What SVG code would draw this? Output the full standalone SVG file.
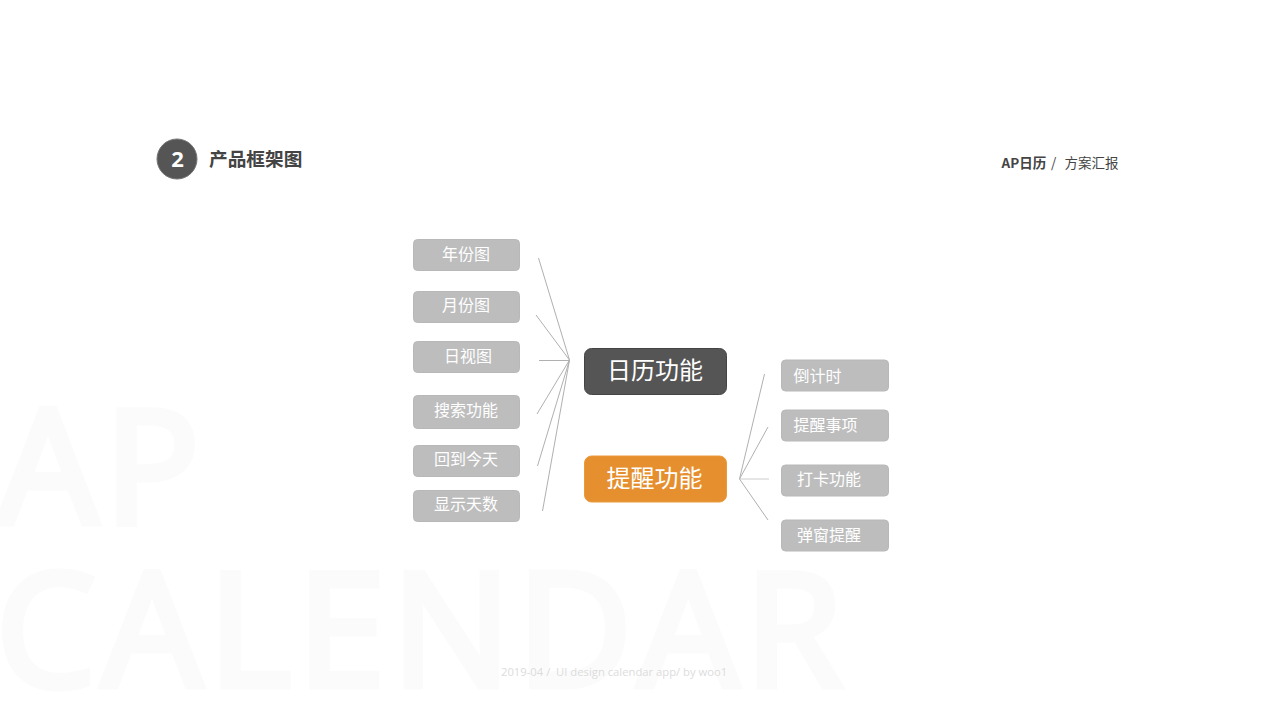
<svg xmlns="http://www.w3.org/2000/svg" width="1280" height="720" viewBox="0 0 1280 720">
<style>
text{font-family:"Noto Sans CJK SC","Open Sans","Noto Sans",sans-serif}
.bg{font-family:"Open Sans","Noto Sans",sans-serif;font-weight:400;font-size:158px;letter-spacing:6.500px;fill:#fbfbfb;stroke:#fbfbfb;stroke-width:7px;stroke-linejoin:miter}
.leaf rect{fill:#bdbdbd;stroke:#b8b8b8;stroke-width:1}
.leaf text{fill:#fff;font-size:16px;text-anchor:middle}
.main text{fill:#fff;font-size:24px;text-anchor:middle}
#connectors line{stroke:#b0b0b0;stroke-width:1;fill:none}
</style>
<rect width="1280" height="720" fill="#fff"/>
<text class="bg" x="-2" y="523">AP</text>
<text class="bg" x="-4" y="686">CALENDAR</text>
<text x="501" y="676" font-size="11.250" fill="#dcdcdc" xml:space="preserve" style="font-family:'Open Sans',sans-serif">2019-04 /  UI design calendar app/ by woo1</text>
<g id="badge"><circle cx="177" cy="159" r="20" fill="#555" stroke="#777" stroke-width="1"/><text x="177.500" y="167" font-size="22" font-weight="700" fill="#fff" text-anchor="middle" style="font-family:'Open Sans',sans-serif">2</text></g>
<text x="209" y="166" font-size="18.700" font-weight="700" fill="#444">产品框架图</text>
<text x="1001.500" y="168" font-size="13.500" font-weight="700" fill="#444">AP日历</text>
<text x="1051" y="168" font-size="13.500" fill="#444">/</text>
<text x="1064.500" y="168" font-size="13.500" fill="#444">方案汇报</text>
<g id="connectors">
<line x1="538.500" y1="258" x2="569.500" y2="360"/>
<line x1="536" y1="315" x2="569.500" y2="360"/>
<line x1="539" y1="360.500" x2="569.500" y2="360.500"/>
<line x1="537" y1="414" x2="569.500" y2="360"/>
<line x1="537.500" y1="466" x2="569.500" y2="360"/>
<line x1="542.500" y1="511" x2="569.500" y2="360"/>
<line x1="764.500" y1="374" x2="739.500" y2="479"/>
<line x1="768" y1="427" x2="739.500" y2="479"/>
<line x1="739.500" y1="479" x2="769" y2="479" style="stroke:#ccc"/>
<line x1="768" y1="520" x2="739.500" y2="479"/>
</g>
<g id="n1" class="leaf"><rect x="413.500" y="239.500" width="106" height="31" rx="4"/><text x="466" y="260">年份图</text></g>
<g id="n2" class="leaf"><rect x="413.500" y="291.500" width="106" height="31" rx="4"/><text x="466" y="311">月份图</text></g>
<g id="n3" class="leaf"><rect x="413.500" y="341.500" width="106" height="31" rx="4"/><text x="468" y="362">日视图</text></g>
<g id="n4" class="leaf"><rect x="413.500" y="395.500" width="106" height="33" rx="4"/><text x="466" y="416">搜索功能</text></g>
<g id="n5" class="leaf"><rect x="413.500" y="445.500" width="106" height="31" rx="4"/><text x="466" y="465">回到今天</text></g>
<g id="n6" class="leaf"><rect x="413.500" y="490.500" width="106" height="31" rx="4"/><text x="466" y="510">显示天数</text></g>
<g id="calendar" class="main"><rect x="584.500" y="348.500" width="142" height="46" rx="7" fill="#555" stroke="#444"/><text x="655" y="379">日历功能</text></g>
<g id="reminder" class="main"><rect x="584.500" y="456" width="142" height="46" rx="7" fill="#e68f2e" stroke="#ea9a3c"/><text x="654.500" y="486.500">提醒功能</text></g>
<g id="r1" class="leaf"><rect x="781.500" y="360" width="107" height="31" rx="4"/><text x="817.500" y="381.500">倒计时</text></g>
<g id="r2" class="leaf"><rect x="781.500" y="410" width="107" height="31" rx="4"/><text x="825.500" y="430.500">提醒事项</text></g>
<g id="r3" class="leaf"><rect x="781.500" y="465" width="107" height="31" rx="4"/><text x="829" y="485">打卡功能</text></g>
<g id="r4" class="leaf"><rect x="781.500" y="520" width="107" height="31" rx="4"/><text x="829" y="540.500">弹窗提醒</text></g>
</svg>
